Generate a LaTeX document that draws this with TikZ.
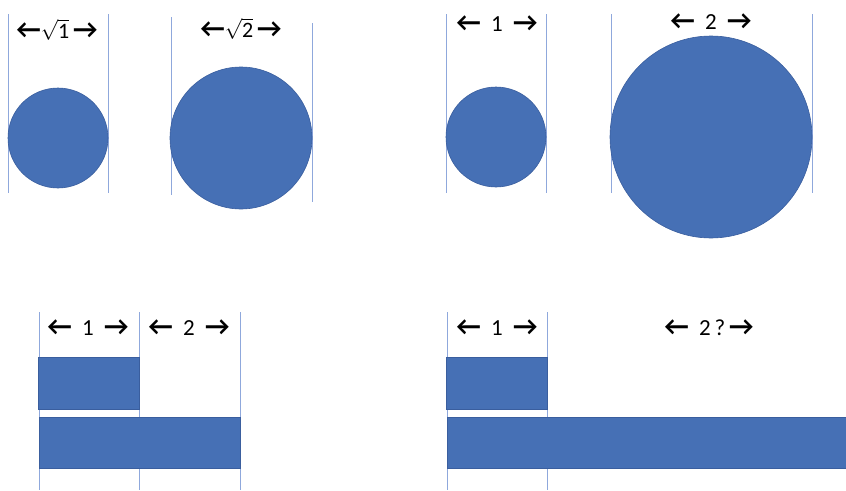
\documentclass[tikz,border=0pt]{standalone}
\usepackage{amsmath}
\usepackage{fontspec}
\setmainfont{Carlito}
\usetikzlibrary{positioning,calc}
\definecolor{shapeblue}{HTML}{4670B5}
\definecolor{edgeblue}{HTML}{3A5E9E}
\definecolor{guideblue}{HTML}{8FA8DC}
\tikzset{
  disc/.style={draw=edgeblue,fill=shapeblue,line width=0.6pt},
  bar/.style={draw=edgeblue,fill=shapeblue,line width=0.6pt},
  guide/.style={draw=guideblue,line width=0.9pt},
  span/.style={font=\fontsize{23}{26}\selectfont,text=black,inner sep=0pt,anchor=base}
}
\newcommand{\rootof}[1]{{\fontsize{22}{24}\selectfont$\sqrt{\mbox{#1}}$}}
\newcommand{\lar}{{\fontsize{27}{26}\selectfont\bfseries ←}}
\newcommand{\rar}{{\fontsize{27}{26}\selectfont\bfseries →}}

\begin{document}
\begin{tikzpicture}[x=1pt,y=-1pt]
  \useasboundingbox (0,0) rectangle (846,490);

  % circles: side by root of the area
  \draw[guide] (8,14) -- (8,193);
  \draw[guide] (108,14) -- (108,193);
  \draw[guide] (171,17) -- (171,195);
  \draw[guide] (312,23) -- (312,202);
  \draw[disc] (58,138) circle[radius=50];
  \draw[disc] (241,138) circle[radius=71];
  \node[span] (rootone) at (57,38) {\lar\rootof{1}\,\rar};
  \node[span] (roottwo) at (241,37) {\lar\rootof{2}\,\rar};

  % circles: side by the area
  \draw[guide] (446,14) -- (446,193);
  \draw[guide] (546,14) -- (546,193);
  \draw[guide] (611,14) -- (611,193);
  \draw[guide] (812,14) -- (812,193);
  \draw[disc] (496,137) circle[radius=50];
  \draw[disc] (711,137) circle[radius=101];
  \node[span] (sideone) at (497,31) {\lar\ \ 1\ \ \rar};
  \node[span] (sidetwo) at (711,29) {\lar\ \ 2\ \ \rar};

  % bars, left
  \draw[guide] (39,312) -- (39,490);
  \draw[guide] (139,312) -- (139,490);
  \draw[guide] (240,312) -- (240,490);
  \draw[bar] (38,357) rectangle (139,409);
  \draw[bar] (39,417) rectangle (240,468);
  \node[span] (barone) at (88,335) {\lar\ \ 1\ \ \rar};
  \node[span] (bartwo) at (189,335) {\lar\ \ 2\ \ \rar};

  % bars, right
  \draw[guide] (447,312) -- (447,490);
  \draw[guide] (547,312) -- (547,490);
  \draw[bar] (446,357) rectangle (547,409);
  \draw[bar] (447,417) rectangle (846,468);
  \node[span] (longone) at (497,335) {\lar\ \ 1\ \ \rar};
  \node[span] (longtwo) at (709,335) {\lar\ \ 2\,?\,\rar};
\end{tikzpicture}
\end{document}
